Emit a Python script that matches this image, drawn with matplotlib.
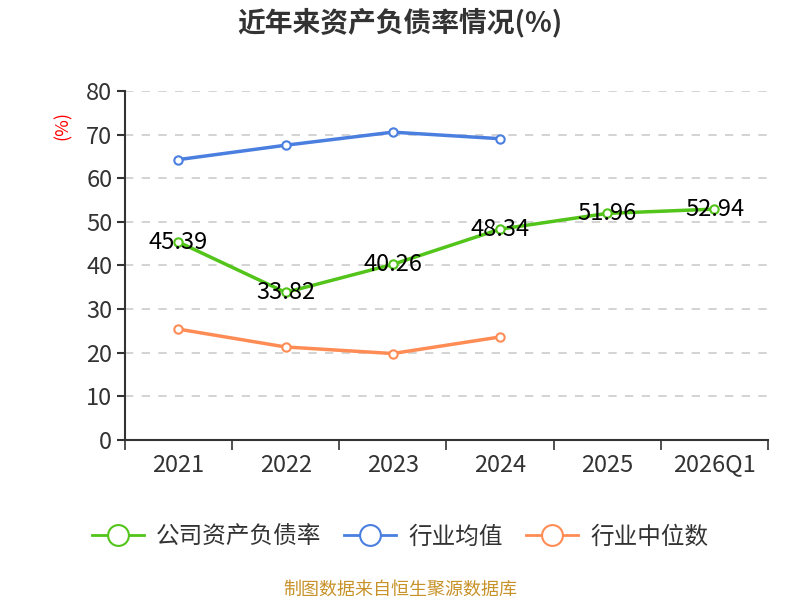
import matplotlib
matplotlib.use('Agg')
from matplotlib import pyplot as plt
from matplotlib.lines import Line2D

plt.rcParams['font.family'] = ['Noto Sans CJK SC', 'DejaVu Sans']

categories = ['2021', '2022', '2023', '2024', '2025', '2026Q1']
company = [45.39, 33.82, 40.26, 48.34, 51.96, 52.94]
industry_mean = [64.3, 67.6, 70.6, 69.1]
industry_median = [25.4, 21.3, 19.8, 23.6]

green = '#52c41a'
blue = '#4a7fe0'
orange = '#ff8c55'

fig = plt.figure(figsize=(8, 6), dpi=100)
ax = fig.add_axes([0.156, 0.267, 0.804, 0.581])

x = list(range(len(categories)))
mk = dict(marker='o', markersize=6, markerfacecolor='white', markeredgewidth=1.5)
ax.plot(x, company, color=green, lw=2.5, zorder=3, **mk)
ax.plot(x[:len(industry_mean)], industry_mean, color=blue, lw=2.5, zorder=3, **mk)
ax.plot(x[:len(industry_median)], industry_median, color=orange, lw=2.5, zorder=3, **mk)

for xi, v in zip(x, company):
    ax.text(xi, v, f'{v:.2f}', ha='center', va='center', fontsize=17, color='black', zorder=4)

ax.set_xlim(-0.5, len(categories) - 0.5)
ax.set_ylim(0, 80)
ax.set_yticks(range(0, 81, 10))
ax.tick_params(axis='y', labelsize=17, colors='#333333', length=6, width=1.5, pad=3)
ax.set_xticks(x)
ax.set_xticklabels(categories)
ax.tick_params(axis='x', labelsize=17, colors='#333333', length=0, pad=10)
ax.set_xticks([i - 0.5 for i in range(len(categories) + 1)], minor=True)
ax.tick_params(axis='x', which='minor', length=7, width=1.2, color='#333333')

ax.grid(axis='y', linestyle=(0, (5, 5)), color='#cccccc', lw=1.2)
for sp in ['top', 'right']:
    ax.spines[sp].set_visible(False)
ax.spines['left'].set_color('#333333')
ax.spines['left'].set_linewidth(1.5)
ax.spines['bottom'].set_color('#333333')
ax.spines['bottom'].set_linewidth(1.5)

fig.text(0.078, 0.79, '(%)', color='red', fontsize=13, rotation=90, ha='center', va='center')
fig.text(0.5, 0.962, '近年来资产负债率情况(%)', fontsize=20, weight='bold', ha='center', va='center', color='#333333')

handles = [
    Line2D([], [], color=c, lw=2, marker='o', markersize=15, markerfacecolor='white', markeredgewidth=1.5)
    for c in (green, blue, orange)
]
fig.legend(handles, ['公司资产负债率', '行业均值', '行业中位数'], loc='center', bbox_to_anchor=(0.5, 0.105),
           ncol=3, frameon=False, fontsize=17, handlelength=2.2, columnspacing=1.0, handletextpad=0.5,
           labelcolor='#333333')

fig.text(0.5, 0.017, '制图数据来自恒生聚源数据库', color='#c8922a', fontsize=13, ha='center', va='center')

fig.savefig('out.png', dpi=100)
